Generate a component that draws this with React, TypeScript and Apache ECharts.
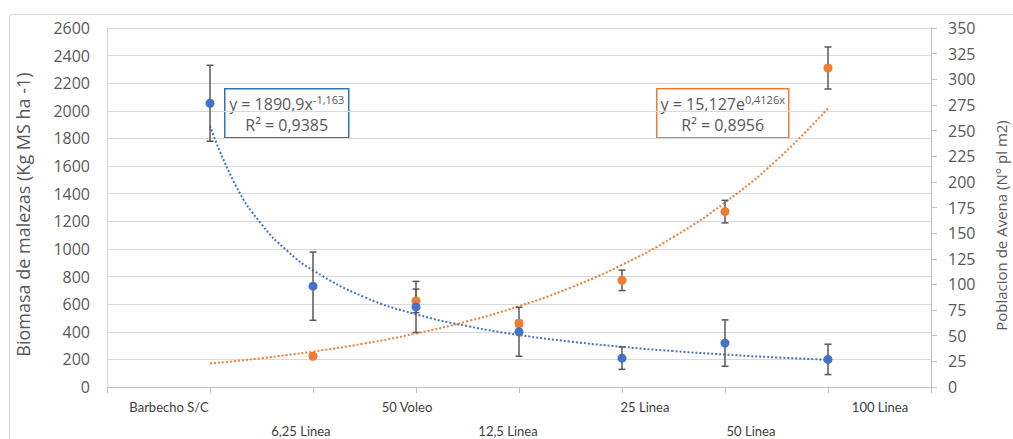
import React, { useEffect, useRef } from "react";
import * as echarts from "echarts";

// Category labels placed along the x value axis (Excel-like staggered labels)
const categories = ["Barbecho S/C", "6,25 Linea", "50 Voleo", "12,5 Linea", "25 Linea", "50 Linea", "100 Linea"];
const labelPos = [0.602, 1.883, 2.913, 3.893, 5.223, 6.252, 7.505];
const labelRow = [0, 1, 0, 1, 0, 1, 0];
const xTicks = [0, 1, 2, 3, 4, 5, 6, 7, 8];

// Observed points
const xValues = [1, 2, 3, 4, 5, 6, 7];
const biomasa = [2055, 730, 580, 400, 209, 318, 200];
const biomasaErr = [275, 247, 185, 177, 81, 168, 110];
const poblacionX = [2, 3, 4, 5, 6, 7];
const poblacion = [30, 84, 62, 104, 171, 311];
const poblacionErr = [2, 11.5, 3, 10, 11, 20.5];

// Trend lines
const trendX = [1, 1.25, 1.5, 1.75, 2, 2.5, 3, 3.5, 4, 4.5, 5, 5.5, 6, 6.5, 7];
const biomasaTrend = [1891, 1459, 1179, 986, 845, 651, 527, 441, 377, 329, 291, 260, 235, 214, 197];
const poblacionTrend = [22.9, 25.3, 28.1, 31.1, 34.5, 42.4, 52.2, 64.1, 78.8, 96.9, 119.1, 146.3, 179.9, 221.1, 271.7];

const leftTicks = { min: 0, max: 2600, interval: 200 };
const rightTicks = { min: 0, max: 350, interval: 25 };

const BLUE = "#4472C4";
const ORANGE = "#ED7D31";
const TEXT = "#595959";
const FONT = "'Open Sans', sans-serif";

function errRender(params: any, api: any) {
  const x = api.value(0);
  const lo = api.value(1);
  const hi = api.value(2);
  const pLo = api.coord([x, lo]);
  const pHi = api.coord([x, hi]);
  const hw = 3.5;
  const style = { stroke: "#595959", lineWidth: 1.5 };
  return {
    type: "group",
    children: [
      { type: "line", shape: { x1: pLo[0], y1: pLo[1], x2: pHi[0], y2: pHi[1] }, style },
      { type: "line", shape: { x1: pLo[0] - hw, y1: pLo[1], x2: pLo[0] + hw, y2: pLo[1] }, style },
      { type: "line", shape: { x1: pHi[0] - hw, y1: pHi[1], x2: pHi[0] + hw, y2: pHi[1] }, style },
    ],
  };
}

export default function App() {
  const ref = useRef<HTMLDivElement>(null);
  useEffect(() => {
    if (!ref.current) return;
    const chart = echarts.init(ref.current, null, { renderer: "svg" });
    const option: any = {
      animation: false,
      backgroundColor: "#ffffff",
      grid: { left: 107, right: 82, top: 28, bottom: 52, outerBoundsMode: "none", containLabel: false },
      xAxis: {
        type: "value",
        min: 0,
        max: 8,
        interval: 1,
        splitLine: { show: false },
        axisLine: { show: true, lineStyle: { color: "#BFBFBF", width: 1 } },
        axisTick: { show: true, customValues: xTicks, length: 6, lineStyle: { color: "#BFBFBF" } },
        axisLabel: {
          customValues: labelPos,
          margin: 8,
          color: "#404040",
          fontFamily: "Lato, sans-serif",
          fontSize: 13,
          lineHeight: 24,
          formatter: (v: number) => {
            let best = 0;
            for (let i = 0; i < labelPos.length; i++) {
              if (Math.abs(labelPos[i] - v) < Math.abs(labelPos[best] - v)) best = i;
            }
            return labelRow[best] ? "\n" + categories[best] : categories[best];
          },
        },
      },
      yAxis: [
        {
          type: "value",
          ...leftTicks,
          name: "Biomasa de malezas (Kg MS ha -1)",
          nameLocation: "middle",
          nameGap: 75,
          nameTextStyle: { color: TEXT, fontFamily: FONT, fontSize: 18, padding: [0, 14, 0, 0] },
          axisLine: { show: true, lineStyle: { color: "#D9D9D9" } },
          axisTick: { show: false },
          axisLabel: { color: TEXT, fontFamily: FONT, fontSize: 16, margin: 17, formatter: (v: number) => String(v) },
          splitLine: { show: true, lineStyle: { color: "#D9D9D9", width: 1 } },
        },
        {
          type: "value",
          ...rightTicks,
          position: "right",
          name: "Poblacion de Avena (N° pl m2)",
          nameLocation: "middle",
          nameGap: 62,
          nameRotate: 90,
          nameTextStyle: { color: TEXT, fontFamily: FONT, fontSize: 15, padding: [0, 36, 0, 0] },
          axisLine: { show: true, lineStyle: { color: "#BFBFBF" } },
          axisTick: { show: true, length: 6, lineStyle: { color: "#BFBFBF" } },
          axisLabel: { color: TEXT, fontFamily: FONT, fontSize: 16, margin: 17, formatter: (v: number) => String(v) },
          splitLine: { show: false },
        },
      ],
      series: [
        {
          type: "line",
          yAxisIndex: 0,
          data: trendX.map((x, i) => [x, biomasaTrend[i]]),
          smooth: true,
          showSymbol: false,
          lineStyle: { color: BLUE, width: 2, type: [2, 2] },
          z: 1,
        },
        {
          type: "line",
          yAxisIndex: 1,
          data: trendX.map((x, i) => [x, poblacionTrend[i]]),
          smooth: true,
          showSymbol: false,
          lineStyle: { color: ORANGE, width: 2, type: [2, 2] },
          z: 1,
        },
        {
          type: "custom",
          yAxisIndex: 0,
          data: xValues.map((x, i) => [x, biomasa[i] - biomasaErr[i], biomasa[i] + biomasaErr[i]]),
          encode: { x: 0, y: [1, 2] },
          renderItem: errRender,
          z: 2,
        },
        {
          type: "custom",
          yAxisIndex: 1,
          data: poblacionX.map((x, i) => [x, poblacion[i] - poblacionErr[i], poblacion[i] + poblacionErr[i]]),
          encode: { x: 0, y: [1, 2] },
          renderItem: errRender,
          z: 2,
        },
        {
          type: "scatter",
          yAxisIndex: 1,
          data: poblacionX.map((x, i) => [x, poblacion[i]]),
          symbol: "circle",
          symbolSize: 9,
          itemStyle: { color: ORANGE, opacity: 1 },
          z: 3,
        },
        {
          type: "scatter",
          yAxisIndex: 0,
          data: xValues.map((x, i) => [x, biomasa[i]]),
          symbol: "circle",
          symbolSize: 9,
          itemStyle: { color: BLUE, opacity: 1 },
          z: 4,
        },
      ],
      graphic: [
        {
          type: "rect",
          shape: { x: 9.5, y: 14.5, width: 1010, height: 440, r: 3 },
          style: { fill: "none", stroke: "#D9D9D9", lineWidth: 1 },
          silent: true,
          z: -10,
        },
        {
          type: "group",
          left: 224,
          top: 88,
          z: 10,
          children: [
            {
              type: "rect",
              shape: { x: 0, y: 0, width: 124, height: 49 },
              style: { fill: "#ffffff", stroke: "#2E75B6", lineWidth: 1.5 },
            },
            {
              type: "text",
              x: 62,
              y: 15,
              style: {
                text: "{m|y = 1890,9x}{s|-1,163}",
                align: "center",
                verticalAlign: "middle",
                rich: {
                  m: { fontFamily: FONT, fontSize: 16, fill: TEXT, lineHeight: 20 },
                  s: { fontFamily: FONT, fontSize: 11, fill: TEXT, lineHeight: 20, verticalAlign: "top" },
                },
              },
            },
            {
              type: "text",
              x: 62,
              y: 36,
              style: { text: "R² = 0,9385", align: "center", verticalAlign: "middle", fontFamily: FONT, fontSize: 16, fill: TEXT },
            },
          ],
        },
        {
          type: "group",
          left: 656,
          top: 88,
          z: 10,
          children: [
            {
              type: "rect",
              shape: { x: 0, y: 0, width: 132, height: 49 },
              style: { fill: "#ffffff", stroke: ORANGE, lineWidth: 1.5 },
            },
            {
              type: "text",
              x: 66,
              y: 15,
              style: {
                text: "{m|y = 15,127e}{s|0,4126x}",
                align: "center",
                verticalAlign: "middle",
                rich: {
                  m: { fontFamily: FONT, fontSize: 16, fill: TEXT, lineHeight: 20 },
                  s: { fontFamily: FONT, fontSize: 11, fill: TEXT, lineHeight: 20, verticalAlign: "top" },
                },
              },
            },
            {
              type: "text",
              x: 66,
              y: 36,
              style: { text: "R² = 0,8956", align: "center", verticalAlign: "middle", fontFamily: FONT, fontSize: 16, fill: TEXT },
            },
          ],
        },
      ],
    };
    chart.setOption(option);
    return () => chart.dispose();
  }, []);
  return <div ref={ref} style={{ position: "fixed", left: 0, top: 0, width: 1013, height: 439 }} />;
}
